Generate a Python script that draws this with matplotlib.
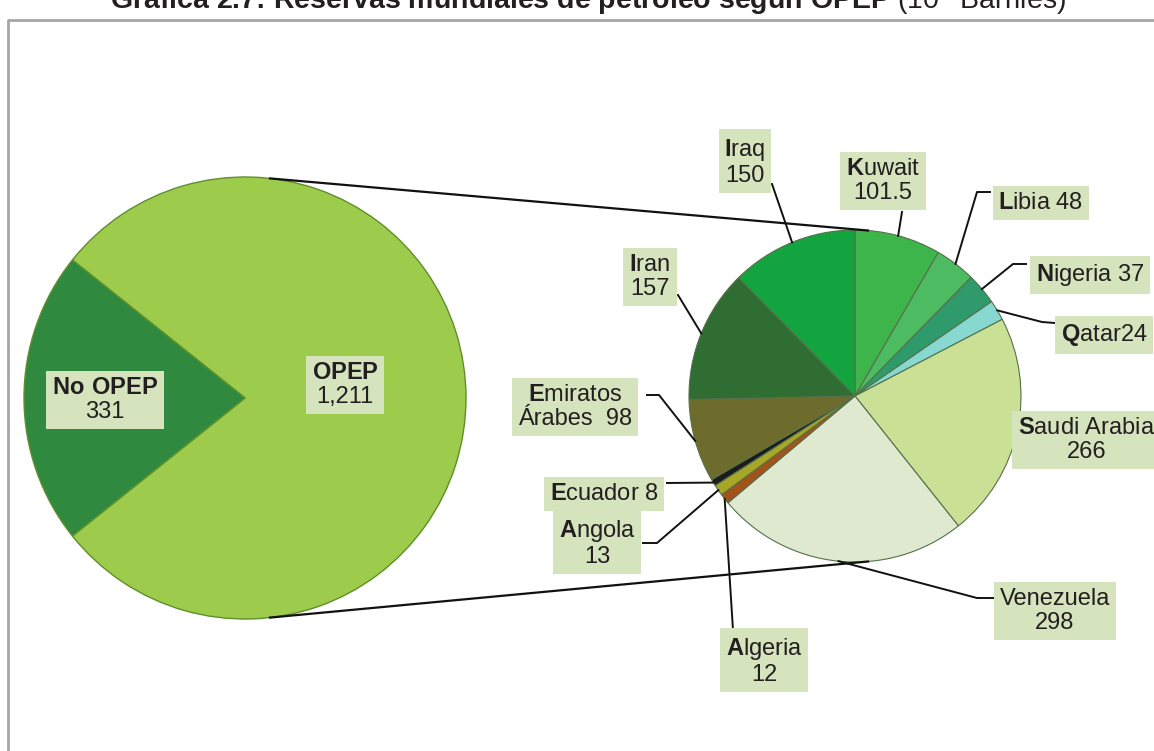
import numpy as np
import matplotlib
matplotlib.use("Agg")
import matplotlib.pyplot as plt

plt.rcParams['font.family'] = ['Liberation Sans', 'DejaVu Sans']
plt.rcParams['mathtext.fontset'] = 'custom'
plt.rcParams['mathtext.rm'] = 'Liberation Sans'
plt.rcParams['mathtext.bf'] = 'Liberation Sans:bold'

# data: reservas de petroleo (10^9 barriles)
main_labels = ['OPEP', 'No OPEP']
main_values = [1211, 331]
main_colors = ['#9dcb4b', '#2f8a3f']

countries = ['Kuwait', 'Libia', 'Nigeria', 'Qatar', 'Saudi Arabia', 'Venezuela',
             'Algeria', 'Angola', 'Ecuador', 'Emiratos Árabes', 'Iran', 'Iraq']
country_values = [101.5, 48, 37, 24, 266, 298, 12, 13, 8, 98, 157, 150]
country_colors = ['#3db54a', '#4cbb62', '#2f9a6c', '#86d8d0', '#c9e095', '#dfe9d0',
                  '#a4521c', '#a8a625', '#1c1c1c', '#6e6c2c', '#2f6d33', '#14a43f']
country_text = ['$\\mathbf{K}$uwait\n101.5', '$\\mathbf{L}$ibia 48', '$\\mathbf{N}$igeria 37',
                '$\\mathbf{Q}$atar24', '$\\mathbf{S}$audi Arabia\n266', 'Venezuela\n298',
                '$\\mathbf{A}$lgeria\n12', '$\\mathbf{A}$ngola\n13', '$\\mathbf{E}$cuador 8',
                '$\\mathbf{E}$miratos\nÁrabes  98', '$\\mathbf{I}$ran\n157', '$\\mathbf{I}$raq\n150']

W, H = 1154, 751
fig = plt.figure(figsize=(W / 100, H / 100), dpi=100)
ax = fig.add_axes([0, 0, 1, 1])

def P(x, y):
    # pixel coords (top-down) -> data coords
    return x, H - y

# left pie
c1, r1 = P(245, 398), 221
start1 = -main_values[0] / sum(main_values) * 180
ax.pie(main_values, colors=main_colors, startangle=start1, center=c1, radius=r1,
       wedgeprops=dict(edgecolor='#5f8f2c', linewidth=1.0))

# right pie
c2, r2 = P(855, 396), 166
ax.pie(country_values, colors=country_colors, startangle=90, counterclock=False,
       center=c2, radius=r2, wedgeprops=dict(edgecolor='#55704a', linewidth=0.8))

# connecting lines between the pies
for a1, a2 in [(83.5, 85.5), (-83.5, -85.5)]:
    p1 = (c1[0] + r1 * np.cos(np.radians(a1)), c1[1] + r1 * np.sin(np.radians(a1)))
    p2 = (c2[0] + r2 * np.cos(np.radians(a2)), c2[1] + r2 * np.sin(np.radians(a2)))
    ax.plot([p1[0], p2[0]], [p1[1], p2[1]], color='#111111', lw=1.6, zorder=5)

box = dict(boxstyle='square,pad=0.25', fc='#d6e4bd', ec='none')
tcol = '#231f20'
fs = 17

ax.text(*P(105, 400), '$\\mathbf{No\\ OPEP}$\n331', ha='center', va='center',
        fontsize=fs, color=tcol, bbox=box, linespacing=1.15, zorder=6)
ax.text(*P(345, 385), '$\\mathbf{OPEP}$\n1,211', ha='center', va='center',
        fontsize=fs, color=tcol, bbox=box, linespacing=1.15, zorder=6)

# label positions and leader bends (pixels, top-down)
label_pos = [(883, 181), (1041, 203), (1090, 275), (1104, 335), (1018, 440), (1055, 611),
             (764, 661), (597, 543), (604, 494), (575, 407), (650, 277), (745, 162)]
leader_pts = [[(902, 212)], [(990, 192), (977, 192)], [(1026, 264), (1013, 264)],
              [(1055, 323), (1042, 322)], None, [(993, 598), (977, 598)],
              [(733, 630)], [(643, 543), (657, 543)], [(667, 483)],
              [(647, 395), (659, 395)], [(678, 295)], [(772, 184)]]

total = sum(country_values)
ang = 90.0
for i, v in enumerate(country_values):
    span = v / total * 360
    mid = np.radians(ang - span / 2)
    ang -= span
    x, y = P(*label_pos[i])
    ha = 'left' if countries[i] == 'Saudi Arabia' else 'center'
    ax.text(x, y, country_text[i], ha=ha, va='center', multialignment='center',
            fontsize=fs, color=tcol, bbox=box, linespacing=1.15, zorder=6)
    if leader_pts[i] is None:
        continue
    pts = [P(*p) for p in leader_pts[i]]
    pts.append((c2[0] + r2 * np.cos(mid), c2[1] + r2 * np.sin(mid)))
    xs, ys = zip(*pts)
    ax.plot(xs, ys, color='#111111', lw=1.4, zorder=5)

# frame of the original figure
ax.plot([8, 8, W], [0, H - 20, H - 20], color='#a6a6a6', lw=2, zorder=1)

# title (cut at the top edge, as in the source)
ax.text(*P(588, 9), 'Gráfica 2.7: Reservas mundiales de petróleo según OPEP '
        '$\\mathrm{(10^9\\ Barriles)}$', ha='center', va='baseline',
        fontsize=20.5, fontweight='bold', color=tcol)

ax.set_xlim(0, W)
ax.set_ylim(0, H)
ax.set_aspect('auto')
ax.axis('off')

fig.savefig('out.png', dpi=100)
